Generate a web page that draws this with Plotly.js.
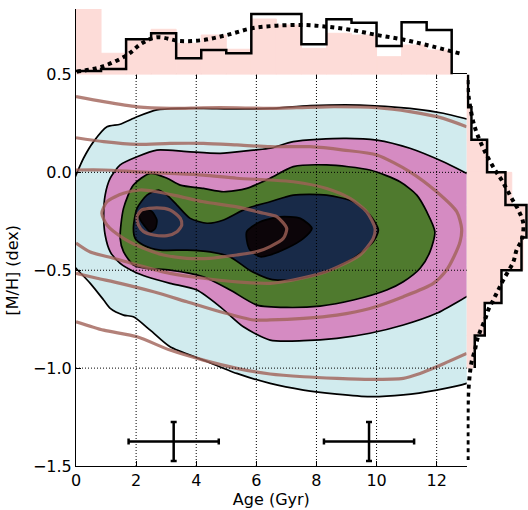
<!DOCTYPE html>
<html>
<head>
<meta charset="utf-8">
<script src="https://cdn.plot.ly/plotly-3.0.1.min.js"></script>
<style>html,body{margin:0;padding:0;background:#fff;}#chart{width:528px;height:510px;}</style>
</head>
<body>
<div id="chart"></div>
<script>
// ---------- axis ticks ----------
const ageTicks = [0, 2, 4, 6, 8, 10, 12];
const mhTicks = [0.5, 0.0, -0.5, -1.0, -1.5];
const mhTickText = ["0.5", "0.0", "\u22120.5", "\u22121.0", "\u22121.5"];

// ---------- top marginal (age) ----------
const ageBinEdges = [0, 0.833, 1.667, 2.5, 3.333, 4.167, 5, 5.833, 6.667, 7.5, 8.333, 9.167, 10, 10.833, 11.667, 12.5];
const ageHistData = [0.053, 0.084, 0.537, 0.628, 0.247, 0.374, 0.324, 0.924, 0.924, 0.461, 0.843, 0.791, 0.435, 0.797, 0.679];
const ageHistRef  = [1.05, 0.324, 0.54, 0.69, 0.476, 0.603, 0.385, 0.847, 0.756, 0.40, 0.629, 0.603, 0.272, 0.45, 0.374];
const ageModelX = [0.03, 0.86, 1.70, 2.19, 2.69, 3.47, 4.24, 5.02, 5.85, 6.68, 7.57, 8.34, 9.18, 10.01, 10.84, 11.67, 12.83];
const ageModelY = [0.043, 0.119, 0.298, 0.476, 0.568, 0.511, 0.527, 0.603, 0.705, 0.745, 0.756, 0.730, 0.679, 0.603, 0.537, 0.450, 0.313];

// ---------- right marginal ([M/H]) ----------
const mhBinEdges = [0.5, 0.333, 0.167, 0, -0.167, -0.333, -0.5, -0.667, -0.833, -1.0];
const mhHistData = [0.021, 0.077, 0.332, 0.632, 0.975, 0.894, 0.567, 0.294, 0.131];
const mhHistRef  = [0, 0.052, 0.35, 0.735, 0.95, 0.92, 0.545, 0.283, 0.106];
const mhModelX = [0.015, 0.025, 0.052, 0.106, 0.162, 0.297, 0.461, 0.570, 0.743, 0.842, 0.923, 0.897, 0.815, 0.760, 0.596, 0.515, 0.433, 0.351, 0.297, 0.216, 0.162, 0.134, 0.080, 0.052, 0.025, 0.015, 0.015];
const mhModelY = [0.472, 0.404, 0.344, 0.259, 0.203, 0.106, 0.012, -0.039, -0.138, -0.192, -0.260, -0.345, -0.396, -0.457, -0.550, -0.601, -0.652, -0.703, -0.754, -0.814, -0.865, -0.908, -0.968, -1.027, -1.129, -1.231, -1.469];

// ---------- filled density contours (data) ----------
const lvl1Age = [-0.2, 0, 0.25, 0.585, 1.03, 1.47, 2.03, 2.69, 3.47, 4.24, 5.35, 6.46, 7.79, 9.45, 11.11, 12.22, 13.0, 13.2, 13.2, 13.0, 12.0, 10.89, 9.78, 8.68, 7.57, 6.46, 5.35, 4.24, 3.13, 2.47, 1.91, 1.58, 1.14, 0.92, 0.475, 0, -0.2];
const lvl1MH  = [-0.09, -0.014, 0.072, 0.157, 0.233, 0.246, 0.284, 0.319, 0.327, 0.327, 0.324, 0.327, 0.341, 0.344, 0.327, 0.302, 0.273, 0.265, -1.065, -1.078, -1.112, -1.137, -1.146, -1.133, -1.112, -1.078, -1.027, -0.959, -0.891, -0.806, -0.738, -0.729, -0.695, -0.652, -0.567, -0.490, -0.458];
const lvl2Age = [0.92, 0.97, 1.14, 1.47, 2.03, 2.69, 3.69, 4.80, 5.90, 6.46, 7.23, 8.90, 10.01, 11.11, 12.22, 13.0, 13.2, 13.2, 13.0, 12.0, 10.89, 9.78, 8.68, 7.57, 6.46, 5.57, 4.80, 4.02, 3.13, 2.36, 1.97, 1.47, 1.14, 0.97, 0.92];
const lvl2MH  = [-0.218, -0.116, -0.030, 0.038, 0.080, 0.114, 0.106, 0.097, 0.114, 0.123, 0.157, 0.174, 0.165, 0.123, 0.054, -0.005, -0.02, -0.62, -0.635, -0.720, -0.780, -0.822, -0.848, -0.860, -0.857, -0.789, -0.687, -0.601, -0.567, -0.533, -0.510, -0.465, -0.406, -0.320, -0.218];
const lvl3Age = [1.47, 1.58, 1.91, 2.47, 3.03, 3.47, 4.24, 4.91, 5.68, 6.46, 7.23, 8.34, 9.78, 10.78, 11.34, 11.67, 11.94, 11.78, 11.45, 10.89, 10.34, 9.23, 8.12, 7.01, 6.02, 5.13, 4.24, 3.13, 2.36, 1.91, 1.58, 1.47];
const lvl3MH  = [-0.337, -0.184, -0.065, -0.005, -0.030, -0.065, -0.082, -0.099, -0.082, -0.030, 0.029, 0.038, 0.012, -0.048, -0.116, -0.201, -0.303, -0.405, -0.490, -0.559, -0.601, -0.652, -0.683, -0.690, -0.678, -0.601, -0.533, -0.499, -0.490, -0.473, -0.405, -0.337];
const lvl4Age = [1.91, 2.03, 2.36, 2.75, 3.03, 3.36, 3.80, 4.36, 4.91, 5.68, 6.46, 7.23, 8.34, 9.23, 9.78, 10.06, 9.89, 9.23, 8.34, 7.23, 6.46, 5.79, 5.13, 4.46, 3.69, 2.80, 2.25, 1.97, 1.91];
const lvl4MH  = [-0.286, -0.184, -0.116, -0.090, -0.116, -0.167, -0.235, -0.260, -0.243, -0.184, -0.150, -0.116, -0.116, -0.150, -0.218, -0.295, -0.354, -0.439, -0.507, -0.550, -0.545, -0.501, -0.432, -0.406, -0.397, -0.397, -0.372, -0.338, -0.286];
const lvl5aAge = [2.08, 2.30, 2.53, 2.69, 2.64, 2.47, 2.30, 2.14, 2.08];
const lvl5aMH  = [-0.209, -0.184, -0.201, -0.243, -0.286, -0.303, -0.277, -0.243, -0.209];
const lvl5bAge = [5.68, 5.85, 6.13, 6.79, 7.46, 7.85, 7.57, 7.01, 6.46, 6.13, 5.79, 5.68, 5.68];
const lvl5bMH  = [-0.303, -0.278, -0.252, -0.227, -0.235, -0.286, -0.337, -0.388, -0.422, -0.431, -0.397, -0.345, -0.303];

// ---------- model contour lines (brown) ----------
const m1TopAge = [0, 0.92, 2.03, 3.13, 4.24, 5.35, 6.46, 8.34, 10.01, 11.11, 12.22, 13.0];
const m1TopMH  = [0.387, 0.361, 0.335, 0.327, 0.330, 0.330, 0.327, 0.335, 0.330, 0.310, 0.276, 0.233];
const m1BotAge = [0, 0.92, 2.03, 3.13, 4.24, 5.35, 6.46, 7.57, 8.68, 9.78, 10.89, 11.45, 12.0, 13.0];
const m1BotMH  = [-0.763, -0.806, -0.840, -0.908, -0.959, -1.001, -1.030, -1.044, -1.052, -1.057, -1.052, -1.027, -0.993, -0.925];
const m2Age = [0, 0.92, 2.03, 3.13, 4.24, 5.35, 6.46, 7.79, 8.90, 10.01, 11.11, 12.0, 12.67, 12.83, 12.78, 12.55, 12.33, 11.89, 10.89, 9.78, 8.68, 7.57, 6.46, 5.90, 4.80, 3.69, 2.58, 1.47, 0.70, 0];
const m2MH  = [0.177, 0.157, 0.143, 0.148, 0.148, 0.140, 0.131, 0.131, 0.114, 0.089, 0.003, -0.099, -0.201, -0.286, -0.354, -0.439, -0.499, -0.567, -0.635, -0.695, -0.729, -0.746, -0.754, -0.754, -0.712, -0.661, -0.610, -0.567, -0.541, -0.516];
const m3Age = [0, 0.92, 2.03, 3.13, 4.24, 5.35, 6.46, 7.23, 8.34, 9.12, 9.67, 9.95, 9.89, 9.45, 8.34, 7.23, 6.46, 5.35, 4.24, 3.13, 2.03, 1.25, 0.475, 0];
const m3MH  = [0.012, 0.012, 0.003, -0.005, -0.014, -0.030, -0.039, -0.048, -0.082, -0.133, -0.201, -0.286, -0.337, -0.422, -0.507, -0.550, -0.567, -0.559, -0.541, -0.516, -0.473, -0.439, -0.407, -0.361];
const m4Age = [0.86, 1.03, 1.58, 2.14, 2.69, 3.47, 4.24, 5.35, 6.24, 6.68, 7.01, 6.90, 6.46, 6.02, 5.35, 4.46, 3.69, 2.91, 2.25, 1.58, 1.03, 0.86];
const m4MH  = [-0.209, -0.150, -0.107, -0.090, -0.099, -0.124, -0.150, -0.176, -0.209, -0.226, -0.286, -0.337, -0.379, -0.405, -0.422, -0.439, -0.439, -0.422, -0.388, -0.337, -0.269, -0.209];
const m5Age = [2.03, 2.19, 2.69, 3.13, 3.47, 3.52, 3.36, 3.03, 2.58, 2.25, 2.08, 2.03];
const m5MH  = [-0.226, -0.192, -0.181, -0.192, -0.235, -0.269, -0.303, -0.323, -0.320, -0.303, -0.269, -0.226];

// ---------- typical uncertainties ----------
const errAge = [3.25, 9.75];
const errMH = [-1.375, -1.375];
const errAgeSize = [1.5, 1.5];
const errMHSize = [0.1, 0.1];

// ---------- styles ----------
const fillColors = ["#d1ebee", "#d58bc2", "#4f7a2e", "#182a48", "#0c0509"];
const histPink = "#fddcd8";
const brown = "rgba(160,98,88,0.8)";

const traces = [];
function fillTrace(xs, ys, color) {
  return {x: xs, y: ys, type: "scatter", mode: "lines", fill: "toself", fillcolor: color,
    line: {color: "#000", width: 1.7, shape: "spline", smoothing: 0.7}, xaxis: "x", yaxis: "y", hoverinfo: "skip"};
}
traces.push(fillTrace(lvl1Age, lvl1MH, fillColors[0]));
traces.push(fillTrace(lvl2Age, lvl2MH, fillColors[1]));
traces.push(fillTrace(lvl3Age, lvl3MH, fillColors[2]));
traces.push(fillTrace(lvl4Age, lvl4MH, fillColors[3]));
traces.push(fillTrace(lvl5aAge, lvl5aMH, fillColors[4]));
traces.push(fillTrace(lvl5bAge, lvl5bMH, fillColors[4]));

function brownTrace(xs, ys) {
  return {x: xs, y: ys, type: "scatter", mode: "lines",
    line: {color: brown, width: 3.2, shape: "spline", smoothing: 0.7}, xaxis: "x", yaxis: "y", hoverinfo: "skip"};
}
[[m1TopAge, m1TopMH], [m1BotAge, m1BotMH], [m2Age, m2MH], [m3Age, m3MH], [m4Age, m4MH], [m5Age, m5MH]]
  .forEach(p => traces.push(brownTrace(p[0], p[1])));

traces.push({x: errAge, y: errMH, type: "scatter", mode: "markers", marker: {size: 1, color: "#000"},
  error_x: {type: "data", array: errAgeSize, visible: true, color: "#000", thickness: 2.5, width: 3},
  error_y: {type: "data", array: errMHSize, visible: true, color: "#000", thickness: 2.5, width: 3},
  xaxis: "x", yaxis: "y", hoverinfo: "skip"});

// top histogram
const ageCenters = ageHistRef.map((v, i) => (ageBinEdges[i] + ageBinEdges[i + 1]) / 2);
traces.push({x: ageCenters, y: ageHistRef, type: "bar", width: ageBinEdges[1] - ageBinEdges[0],
  marker: {color: histPink, line: {width: 1, color: histPink}}, xaxis: "x3", yaxis: "y3", hoverinfo: "skip"});
const ageStepX = ageBinEdges.slice();
const ageStepY = ageHistData.concat([0]);
traces.push({x: ageStepX, y: ageStepY, type: "scatter", mode: "lines", line: {color: "#000", width: 2.5, shape: "hv"},
  xaxis: "x3", yaxis: "y3", hoverinfo: "skip"});
traces.push({x: ageModelX, y: ageModelY, type: "scatter", mode: "lines",
  line: {color: "#000", width: 4, dash: "dot", shape: "spline"}, xaxis: "x3", yaxis: "y3", hoverinfo: "skip"});

// right histogram
const mhCenters = mhHistRef.map((v, i) => (mhBinEdges[i] + mhBinEdges[i + 1]) / 2);
traces.push({x: mhHistRef, y: mhCenters, type: "bar", orientation: "h", width: mhBinEdges[0] - mhBinEdges[1],
  marker: {color: histPink, line: {width: 1, color: histPink}}, xaxis: "x2", yaxis: "y2", hoverinfo: "skip"});
const mhStepY = mhBinEdges.slice();
const mhStepX = mhHistData.concat([mhHistData[mhHistData.length - 1]]);
traces.push({x: mhStepX, y: mhStepY, type: "scatter", mode: "lines", line: {color: "#000", width: 2.5, shape: "vh"},
  xaxis: "x2", yaxis: "y2", hoverinfo: "skip"});
traces.push({x: mhModelX, y: mhModelY, type: "scatter", mode: "lines",
  line: {color: "#000", width: 4, dash: "dot", shape: "spline"}, xaxis: "x2", yaxis: "y2", hoverinfo: "skip"});

// grid lines above fills
const shapes = [];
ageTicks.slice(1).forEach(t => shapes.push({type: "line", xref: "x", yref: "y domain", x0: t, x1: t, y0: 0, y1: 1,
  line: {color: "#000", width: 1, dash: "1px,2px"}, layer: "above"}));
[0.0, -0.5, -1.0].forEach(t => shapes.push({type: "line", xref: "x domain", yref: "y", x0: 0, x1: 1, y0: t, y1: t,
  line: {color: "#000", width: 1, dash: "1px,2px"}, layer: "above"}));

const FONT = {family: "DejaVu Sans, sans-serif", size: 16, color: "#000"};
const xMainDom = [0, 0.8644];
const yMainDom = [0, 0.8567];

const layout = {
  width: 528, height: 510,
  margin: {l: 76, r: 0, t: 9, b: 44},
  paper_bgcolor: "#fff", plot_bgcolor: "rgba(0,0,0,0)",
  showlegend: false, font: FONT, bargap: 0,
  xaxis: {domain: xMainDom, range: [0, 13], tickvals: ageTicks, ticktext: ageTicks.map(String),
    ticks: "inside", ticklen: 5, tickcolor: "#000", showline: true, linecolor: "#000", linewidth: 1, mirror: "ticks",
    showgrid: false, zeroline: false, anchor: "y", tickfont: FONT,
    title: {text: "Age (Gyr)", font: FONT, standoff: 4}},
  yaxis: {domain: yMainDom, range: [-1.5, 0.5], tickvals: mhTicks, ticktext: mhTickText,
    ticks: "inside", ticklen: 5, tickcolor: "#000", showline: true, linecolor: "#000", linewidth: 1,
    showgrid: false, zeroline: false, anchor: "x", tickfont: FONT,
    title: {text: "[M/H] (dex)", font: FONT, standoff: 10}},
  xaxis2: {domain: [0.8644, 1], range: [0, 1], anchor: "y2", visible: false, fixedrange: true},
  yaxis2: {domain: yMainDom, range: [-1.5, 0.5], anchor: "x2", visible: false},
  xaxis3: {domain: xMainDom, range: [0, 13], anchor: "y3", visible: false},
  yaxis3: {domain: [0.8567, 1], range: [0, 1], anchor: "x3", showline: true, linecolor: "#000", linewidth: 1,
    ticks: "", showticklabels: false, showgrid: false, zeroline: false},
  shapes: shapes
};

Plotly.newPlot("chart", traces, layout, {displayModeBar: false, staticPlot: true});
</script>
</body>
</html>
